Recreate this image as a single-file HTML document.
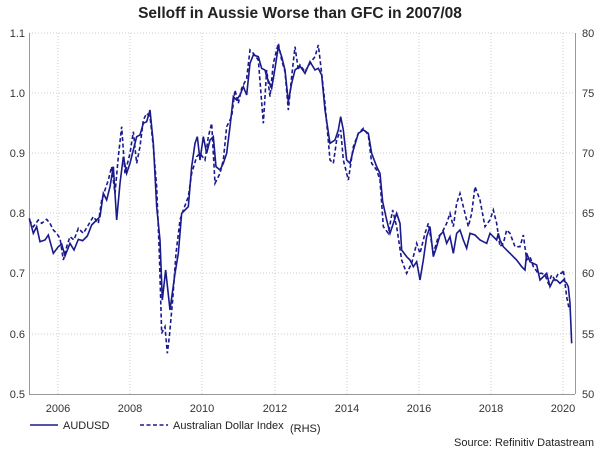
<!DOCTYPE html>
<html><head><meta charset="utf-8"><style>
body{margin:0;background:#fff;}
svg{display:block;font-family:"Liberation Sans",sans-serif;}
</style></head><body>
<svg width="600" height="452" viewBox="0 0 600 452" xmlns="http://www.w3.org/2000/svg">
<rect width="600" height="452" fill="#fff"/>
<text x="300" y="18" text-anchor="middle" font-size="15.5" font-weight="bold" fill="#222">Selloff in Aussie Worse than GFC in 2007/08</text>
<g stroke="#ccc" stroke-width="1" stroke-dasharray="1,2">
<line x1="29" y1="33" x2="575" y2="33"/><line x1="29" y1="93" x2="575" y2="93"/><line x1="29" y1="153" x2="575" y2="153"/><line x1="29" y1="213" x2="575" y2="213"/><line x1="29" y1="273" x2="575" y2="273"/><line x1="29" y1="334" x2="575" y2="334"/>
<line x1="58" y1="33" x2="58" y2="394"/><line x1="130" y1="33" x2="130" y2="394"/><line x1="202" y1="33" x2="202" y2="394"/><line x1="275" y1="33" x2="275" y2="394"/><line x1="347" y1="33" x2="347" y2="394"/><line x1="419" y1="33" x2="419" y2="394"/><line x1="491" y1="33" x2="491" y2="394"/><line x1="563" y1="33" x2="563" y2="394"/>
</g>
<g stroke="#999" stroke-width="1" fill="none">
<line x1="29.5" y1="33" x2="29.5" y2="394"/><line x1="575.5" y1="33" x2="575.5" y2="394"/><line x1="29" y1="394.5" x2="575" y2="394.5"/>
</g>
<g font-size="11" fill="#333">
<text x="25" y="37" text-anchor="end">1.1</text><text x="25" y="97" text-anchor="end">1.0</text><text x="25" y="157" text-anchor="end">0.9</text><text x="25" y="217" text-anchor="end">0.8</text><text x="25" y="277" text-anchor="end">0.7</text><text x="25" y="338" text-anchor="end">0.6</text><text x="25" y="398" text-anchor="end">0.5</text>
<text x="582" y="37">80</text><text x="582" y="97">75</text><text x="582" y="157">70</text><text x="582" y="217">65</text><text x="582" y="277">60</text><text x="582" y="338">55</text><text x="582" y="398">50</text>
<text x="58" y="412" text-anchor="middle">2006</text><text x="130" y="412" text-anchor="middle">2008</text><text x="202" y="412" text-anchor="middle">2010</text><text x="275" y="412" text-anchor="middle">2012</text><text x="347" y="412" text-anchor="middle">2014</text><text x="419" y="412" text-anchor="middle">2016</text><text x="491" y="412" text-anchor="middle">2018</text><text x="563" y="412" text-anchor="middle">2020</text>
</g>
<g transform="translate(0,20) scale(0.33333)" fill="none" stroke="#1a1a8c" stroke-width="1.6">
<polyline vector-effect="non-scaling-stroke" points="88,595 100,640 110,620 120,665 135,660 145,645 160,700 175,680 185,672 195,708 210,670 222,690 235,658 248,662 262,648 275,615 290,600 300,590 310,520 320,540 330,500 340,440 350,600 360,490 370,410 380,460 390,430 400,390 410,350 420,345 430,310 440,305 450,270 460,370 470,560 480,660 487,840 497,750 510,870 525,760 535,700 545,580 555,570 565,560 575,440 585,370 592,350 600,420 610,350 620,400 630,360 640,350 648,440 660,450 670,430 680,400 690,320 700,230 710,240 720,225 730,200 740,225 750,130 760,105 775,110 785,145 795,150 800,170 815,205 825,145 835,80 845,110 855,150 865,245 875,190 885,150 900,138 915,160 930,125 945,150 955,145 965,165 975,270 990,370 1005,360 1015,330 1022,290 1030,330 1040,420 1050,430 1060,390 1075,340 1090,330 1105,340 1115,400 1130,440 1140,460 1148,545 1160,600 1170,640 1180,610 1190,580 1200,610 1205,690 1220,710 1230,720 1240,740 1250,725 1260,780 1270,720 1280,650 1290,620 1300,710 1310,680 1320,645 1330,635 1340,670 1350,650 1360,700 1370,640 1380,630 1390,660 1400,685 1410,640 1425,645 1440,660 1450,665 1460,670 1470,640 1480,650 1490,660 1495,640 1500,660 1510,680 1530,700 1550,720 1565,740 1575,750 1580,700 1590,725 1610,735 1620,780 1630,770 1640,760 1650,800 1660,780 1670,780 1680,790 1690,780 1700,790 1705,800 1710,850 1715,970"/>
<polyline vector-effect="non-scaling-stroke" stroke-dasharray="4,2.5" points="88,600 100,620 115,600 125,610 140,598 150,610 160,630 170,640 180,655 190,720 200,680 210,650 222,660 235,625 250,640 265,615 280,590 295,610 305,540 315,510 325,480 335,440 345,520 355,410 365,320 375,460 390,400 400,335 410,430 420,380 430,300 440,280 450,290 460,380 470,500 478,700 485,940 495,920 502,1000 508,950 518,840 528,700 540,600 550,570 565,530 575,460 590,410 600,400 615,420 625,350 635,310 645,490 660,460 670,420 680,320 695,290 705,210 715,250 725,205 740,175 750,90 760,100 775,120 790,310 800,150 810,230 820,130 835,70 845,120 855,155 865,270 875,170 885,80 895,150 900,135 915,155 930,130 945,110 955,75 965,160 975,250 990,420 1000,430 1010,360 1022,330 1030,420 1045,480 1060,380 1075,340 1090,325 1105,345 1115,430 1130,450 1140,480 1150,620 1165,640 1178,570 1190,620 1205,720 1220,760 1235,730 1250,670 1260,700 1275,640 1285,610 1300,700 1315,650 1325,640 1340,610 1350,580 1360,620 1370,550 1380,520 1390,560 1405,620 1415,580 1425,500 1440,540 1455,620 1470,600 1480,570 1490,610 1500,680 1510,670 1520,630 1530,640 1545,680 1560,680 1570,645 1580,720 1590,710 1600,740 1615,760 1625,760 1635,765 1645,790 1655,765 1665,780 1675,760 1685,760 1690,750 1700,830 1708,870"/>
</g>
<g font-size="11" fill="#222">
<line x1="30" y1="425" x2="58" y2="425" stroke="#1a1a8c" stroke-width="1.6"/>
<text x="63" y="429">AUDUSD</text>
<line x1="140" y1="425" x2="168" y2="425" stroke="#1a1a8c" stroke-width="1.6" stroke-dasharray="4,2.5"/>
<text x="173" y="429">Australian Dollar Index</text><text x="290" y="432">(RHS)</text>
<text x="594" y="446" text-anchor="end">Source: Refinitiv Datastream</text>
</g>
</svg>
</body></html>
